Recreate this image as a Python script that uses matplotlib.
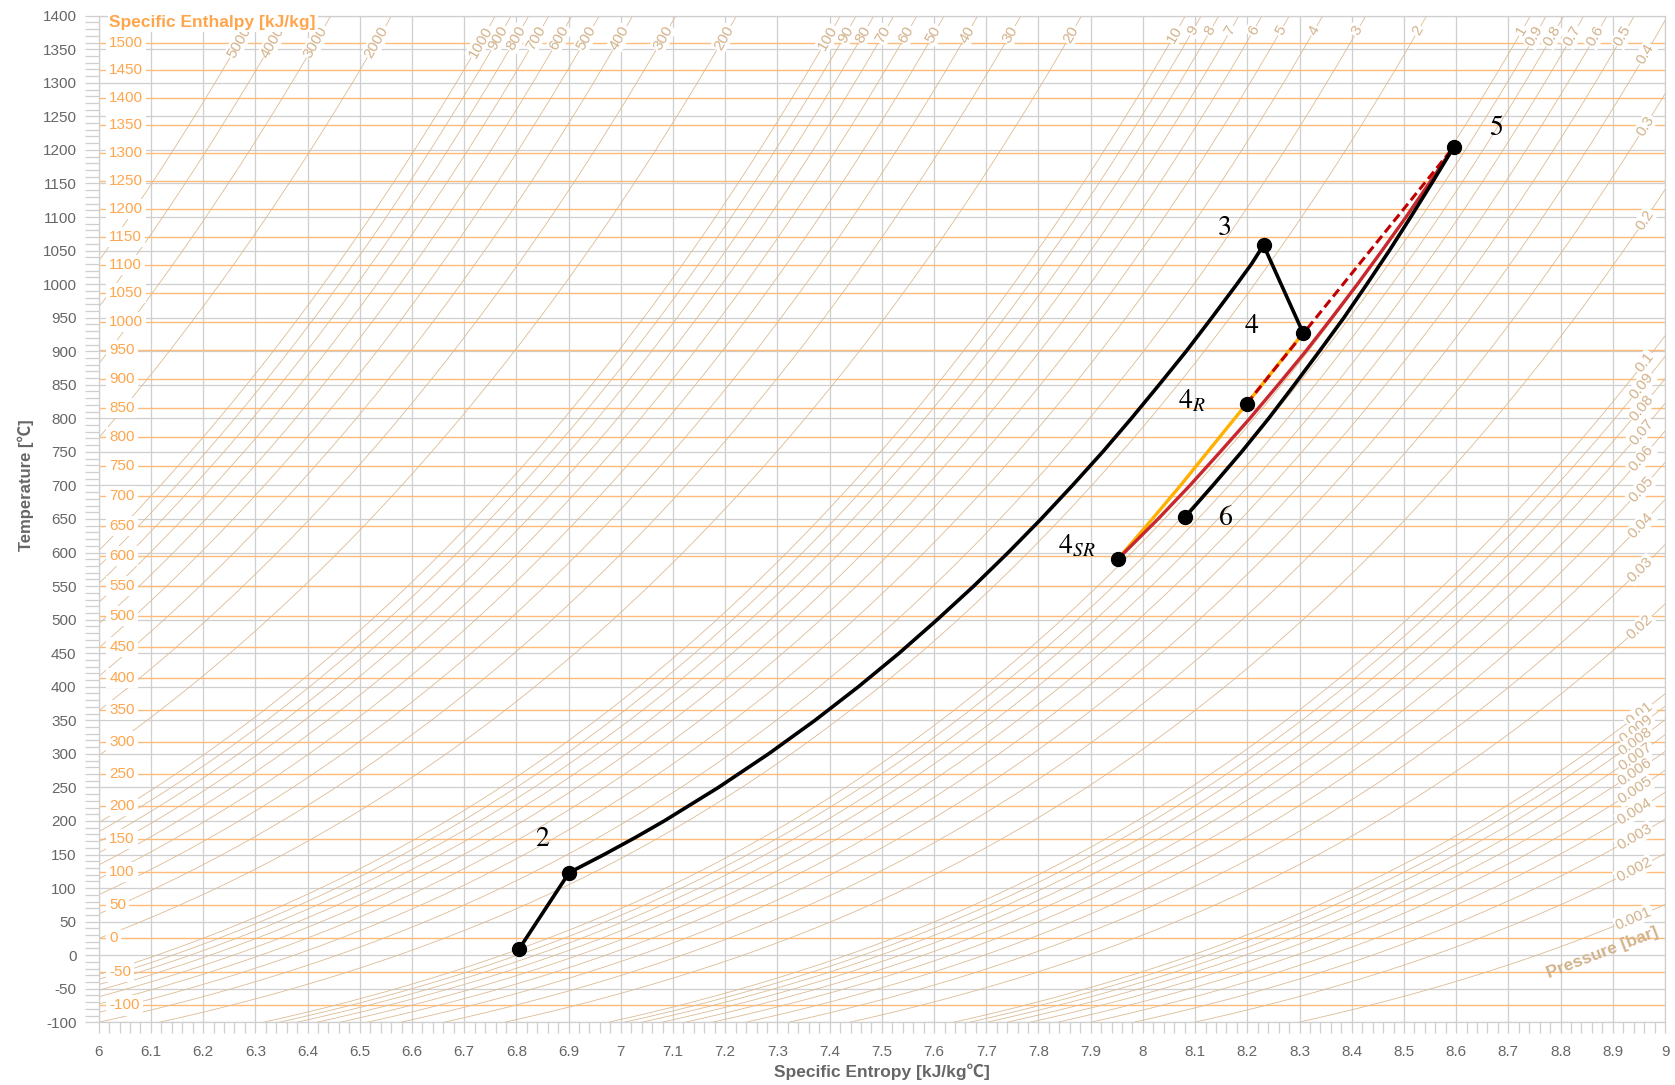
import numpy as np
import matplotlib
matplotlib.use("Agg")
import matplotlib.pyplot as plt

plt.rcParams["font.family"] = ["Liberation Sans", "Noto Sans CJK SC", "DejaVu Sans"]
plt.rcParams["mathtext.fontset"] = "stix"
plt.rcParams["axes.unicode_minus"] = False

# ---------------------------------------------------------------- axes ranges
S_MIN, S_MAX = 6.0, 9.0
T_MIN, T_MAX = -100, 1400

# ------------------------------------------------- ideal-gas air property table
air_T_K = np.array([150, 200, 250, 300, 350, 400, 450, 500, 550, 600, 650, 700,
                    750, 800, 850, 900, 950, 1000, 1100, 1200, 1300, 1400, 1500,
                    1600, 1700, 1800])
air_s0 = np.array([1.00704, 1.29559, 1.51917, 1.70203, 1.85708, 1.99194, 2.11161,
                   2.21952, 2.31809, 2.40902, 2.49364, 2.57277, 2.64737, 2.71787,
                   2.78480, 2.84856, 2.90940, 2.96770, 3.07732, 3.17888, 3.27345,
                   3.36200, 3.44516, 3.52364, 3.59770, 3.66762])
R_AIR = 0.287          # kJ/kg K
S_REF = 6.86           # entropy at 25 C, 1 bar

# constant-enthalpy lines: enthalpy label [kJ/kg] and temperature level [C]
enthalpy_levels = list(range(-100, 1501, 50))
enthalpy_temps = [-74.9, -25.0, 25.0, 74.6, 124.1, 173.3, 222.1, 270.5, 318.4,
                  365.8, 412.7, 459.2, 505.1, 550.5, 595.4, 640.1, 684.6, 728.7,
                  772.5, 815.7, 858.7, 901.6, 944.1, 986.5, 1028.7, 1070.7,
                  1112.5, 1154.0, 1195.5, 1236.9, 1278.1, 1319.1, 1360.0]

# isobars [bar]
pressures = [5000, 4000, 3000, 2000,
             1000, 900, 800, 700, 600, 500, 400, 300, 200,
             100, 90, 80, 70, 60, 50, 40, 30, 20,
             10, 9, 8, 7, 6, 5, 4, 3, 2,
             1, 0.9, 0.8, 0.7, 0.6, 0.5, 0.4, 0.3, 0.2,
             0.1, 0.09, 0.08, 0.07, 0.06, 0.05, 0.04, 0.03, 0.02,
             0.01, 0.009, 0.008, 0.007, 0.006, 0.005, 0.004, 0.003, 0.002, 0.001]

# ------------------------------------------------------------- cycle states
state_names = ["1", "2", "3", "4", "4R", "4SR", "5", "6"]
state_s = [6.805, 6.901, 8.231, 8.307, 8.199, 7.953, 8.596, 8.081]
state_T = [9, 123, 1058, 927, 822, 591, 1205, 653]

# process paths (entropy, temperature)
path_12_s = [6.805, 6.901]
path_12_T = [9, 123]
path_23_s = [6.901, 6.968, 7.027, 7.083, 7.187, 7.283, 7.372, 7.455, 7.533, 7.606,
             7.676, 7.742, 7.805, 7.865, 7.923, 7.978, 8.031, 8.083, 8.132, 8.180,
             8.208, 8.231]
path_23_T = [123, 150, 175, 200, 250, 300, 350, 400, 450, 500,
             550, 600, 650, 700, 750, 800, 850, 900, 950, 1000,
             1030, 1058]
path_34_s = [8.231, 8.307]
path_34_T = [1058, 927]
path_65_s = [8.081, 8.134, 8.189, 8.241, 8.290, 8.338, 8.385, 8.429, 8.472,
             8.513, 8.553, 8.596]
path_65_T = [653, 700, 750, 800, 850, 900, 950, 1000, 1050, 1100, 1150, 1205]
path_sr5_s = [7.953, 8.029, 8.090, 8.148, 8.205, 8.259, 8.312, 8.362, 8.411,
              8.458, 8.504, 8.548, 8.596]
path_sr5_T = [591, 650, 700, 750, 800, 850, 900, 950, 1000, 1050, 1100, 1150, 1205]
path_sr4_s = [7.953, 8.018, 8.072, 8.124, 8.176, 8.199, 8.228, 8.279, 8.307]
path_sr4_T = [591, 650, 700, 750, 800, 822, 850, 900, 927]
path_r5_s = [8.199, 8.596]
path_r5_T = [822, 1205]

# -------------------------------------------------------------- colours
GRID = "#cfcfcf"
TICK_TXT = "#666666"
H_LINE = "#ffbb77"
H_TXT = "#ffa64d"
P_LINE = "#dcbb94"
P_TXT = "#d2b28b"


def s0_of(T_K):
    return np.interp(np.log(T_K), np.log(air_T_K), air_s0)


def isobar_s(T_C, p):
    T_C = np.asarray(T_C, dtype=float)
    return S_REF + s0_of(T_C + 273.15) - s0_of(298.15) - R_AIR * np.log(p)


fig = plt.figure(figsize=(16.75, 10.85), dpi=100)
ax = fig.add_axes([0.05893, 0.05779, 0.93510, 0.92774])
ax.set_xlim(S_MIN, S_MAX)
ax.set_ylim(T_MIN, T_MAX)

# grid and ticks
x_major = np.round(np.arange(S_MIN, S_MAX + 1e-9, 0.1), 1)
ax.set_xticks(x_major)
ax.set_xticklabels(["{:g}".format(v) for v in x_major])
ax.set_xticks(np.arange(S_MIN, S_MAX + 1e-9, 0.02), minor=True)
ax.set_yticks(np.arange(T_MIN, T_MAX + 1, 50))
ax.set_yticks(np.arange(T_MIN, T_MAX + 1, 10), minor=True)
ax.grid(which="major", color=GRID, lw=0.9, zorder=0)
ax.set_axisbelow(True)
ax.tick_params(axis="x", which="both", length=8, width=0.9, color=GRID,
               labelcolor=TICK_TXT, labelsize=11, pad=8)
ax.tick_params(axis="y", which="both", length=10, width=0.9, color=GRID,
               labelcolor=TICK_TXT, labelsize=11, pad=6)
for sp in ax.spines.values():
    sp.set_color(GRID)
    sp.set_linewidth(0.9)

fig.text(882 / 1675, 1 - 1072 / 1085, "Specific Entropy [kJ/kg℃]", ha="center",
         va="center", fontsize=12.5, fontweight="bold", color=TICK_TXT)
fig.text(25.6 / 1675, 1 - 485 / 1085, "Temperature [℃]", ha="center", va="center",
         rotation=90, fontsize=12, fontweight="bold", color=TICK_TXT)

# constant-enthalpy lines with their labels
x_lab = S_MIN + 10.6 / 522.1 * 0.1 * 10
for h, t in zip(enthalpy_levels, enthalpy_temps):
    ax.axhline(t, color=H_LINE, lw=1.0, zorder=1)
    ax.text(x_lab, t, "{:d}".format(h), color=H_TXT, fontsize=11, ha="left",
            va="center", zorder=4,
            bbox=dict(boxstyle="square,pad=0.2", fc="white", ec="none"))
ax.text(x_lab, 1389.6, "Specific Enthalpy [kJ/kg]", color=H_TXT, fontsize=12.5,
        fontweight="bold", ha="left", va="center", zorder=5, clip_on=False,
        bbox=dict(boxstyle="square,pad=0.1", fc="white", ec="none"))

# isobars with labels near the exit of the plot area
T_grid = np.linspace(T_MIN, T_MAX, 600)
fig.canvas.draw()
to_disp = ax.transData.transform
T_LABEL_TOP = 1383
S_LABEL_RIGHT = 8.973
for p in pressures:
    s_line = isobar_s(T_grid, p)
    ax.plot(s_line, T_grid, color=P_LINE, lw=0.6, zorder=2)
    s_top = float(isobar_s(T_LABEL_TOP, p))
    if s_top <= S_LABEL_RIGHT:
        sa, ta = s_top, T_LABEL_TOP
    else:
        ta = float(np.interp(S_LABEL_RIGHT, s_line, T_grid))
        sa = S_LABEL_RIGHT
    p0 = to_disp((float(isobar_s(ta - 5, p)), ta - 5))
    p1 = to_disp((float(isobar_s(ta + 5, p)), ta + 5))
    ang = np.degrees(np.arctan2(p1[1] - p0[1], p1[0] - p0[0]))
    ax.text(sa, ta, "{:g}".format(p), color=P_TXT, fontsize=11, ha="right",
            va="center", rotation=ang, rotation_mode="anchor", zorder=3,
            bbox=dict(boxstyle="square,pad=0.08", fc="white", ec="none"))
ax.text(8.88, 4, "Pressure [bar]", color=P_TXT, fontsize=12.5, fontweight="bold",
        ha="center", va="center", rotation=21, zorder=3)

# cycle
ax.plot(path_sr4_s, path_sr4_T, color="#ffb000", lw=2.4, zorder=6,
        solid_capstyle="round", solid_joinstyle="round")
ax.plot(path_sr5_s, path_sr5_T, color="#c8282d", lw=2.4, zorder=7,
        solid_capstyle="round", solid_joinstyle="round")
ax.plot(path_r5_s, path_r5_T, color="#c00000", lw=2.2, ls=(0, (3, 1.5)), zorder=7)
for xs, ys in [(path_12_s, path_12_T), (path_23_s, path_23_T),
               (path_34_s, path_34_T), (path_65_s, path_65_T)]:
    ax.plot(xs, ys, color="black", lw=2.6, zorder=8, solid_capstyle="round",
            solid_joinstyle="round")
ax.plot(state_s, state_T, "o", color="black", ms=10, zorder=9, ls="none")

label_font = dict(fontsize=20, color="black", ha="center", va="center", zorder=10,
                  family="STIXGeneral")
ax.text(6.849, 172, "2", **label_font)
ax.text(8.157, 1083, "3", **label_font)
ax.text(8.208, 937, "4", **label_font)
ax.text(8.093, 826, r"$4_{R}$", **label_font)
ax.text(7.873, 609, r"$4_{SR}$", **label_font)
ax.text(8.676, 1232, "5", **label_font)
ax.text(8.159, 651, "6", **label_font)

fig.savefig("out.png", dpi=100, facecolor="white")
